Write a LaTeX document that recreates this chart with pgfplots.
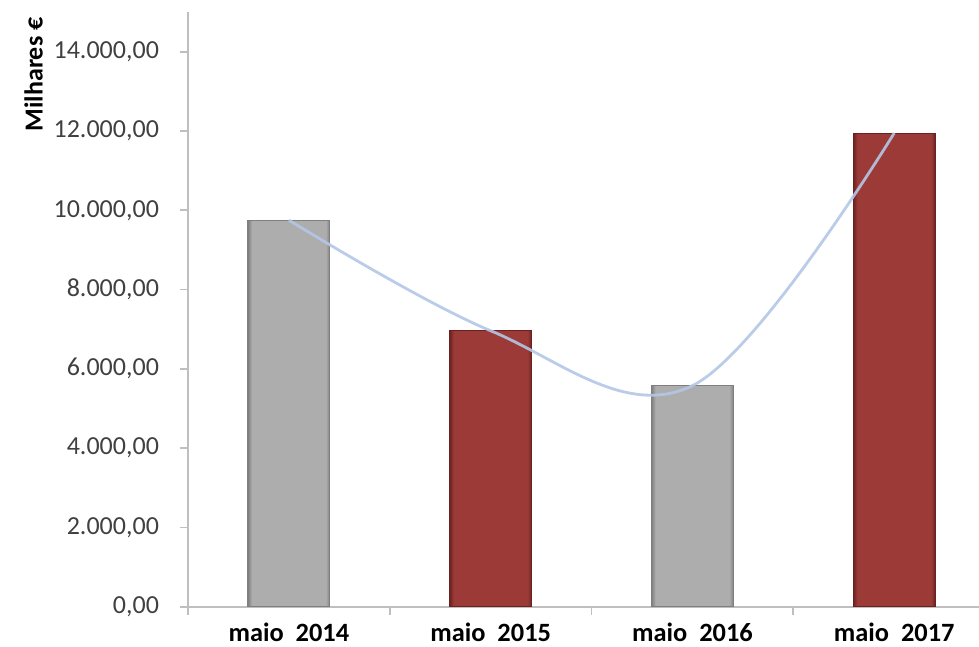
\documentclass[border=0pt]{standalone}
\usepackage{fontspec}
\setmainfont{Carlito}
\usepackage{pgfplots}
\pgfplotsset{compat=1.18}
\definecolor{gm}{HTML}{ADADAD}
\definecolor{gd}{HTML}{7F7F7F}
\definecolor{rm}{HTML}{9C3A38}
\definecolor{rd}{HTML}{6A2220}
\definecolor{axisgray}{HTML}{BFBFBF}
\definecolor{ticktext}{HTML}{404040}
\definecolor{curveblue}{HTML}{B4C7E7}
\pgfdeclarehorizontalshading{grayshade}{100bp}{color(0bp)=(gd); color(25bp)=(gd); color(27.5bp)=(gm); color(72.5bp)=(gm); color(75bp)=(gd); color(100bp)=(gd)}
\pgfdeclarehorizontalshading{redshade}{100bp}{color(0bp)=(rd); color(25bp)=(rd); color(27.5bp)=(rm); color(72.5bp)=(rm); color(75bp)=(rd); color(100bp)=(rd)}
\begin{document}
\begin{tikzpicture}
\begin{axis}[
  scale only axis, width=395.5pt, height=297.35pt,
  xmin=-0.5, xmax=3.42, ymin=0, ymax=15000,
  axis x line*=bottom, axis y line*=left,
  axis line style={draw=axisgray, line width=0.9pt, -},
  ytick={0,2000,...,14000},
  scaled y ticks=false,
  xtick={0,1,2,3},
  xticklabels={maio\ \ 2014, maio\ \ 2015, maio\ \ 2016, maio\ \ 2017},
  major x tick style={draw=none},
  minor xtick={-0.5,0.5,1.5,2.5},
  tick align=outside,
  major tick length=4pt, minor tick length=4pt,
  tick style={draw=axisgray, line width=0.9pt},
  /pgf/number format/.cd, fixed, fixed zerofill, precision=2, use comma, 1000 sep={.}, assume math mode=true,
  /pgfplots/.cd,
  yticklabel style={font=\fontsize{13}{15}\selectfont, text=ticktext, xshift=-7pt},
  xticklabel style={font=\bfseries\fontsize{13.2}{15}\selectfont, text=black, inner ysep=0pt, yshift=-4pt},
  clip=false,
]
\addplot[ybar, bar width=41pt, bar shift=0pt, draw=gd, line width=0.4pt, shade, shading=grayshade] coordinates {(0,9750)};
\addplot[ybar, bar width=41pt, bar shift=0pt, draw=rd, line width=0.4pt, shade, shading=redshade] coordinates {(1,6960)};
\addplot[ybar, bar width=41pt, bar shift=0pt, draw=gd, line width=0.4pt, shade, shading=grayshade] coordinates {(2,5576)};
\addplot[ybar, bar width=41pt, bar shift=0pt, draw=rd, line width=0.4pt, shade, shading=redshade] coordinates {(3,11947)};
\addplot[smooth, tension=0.6, line width=1.4pt, color=curveblue, opacity=0.9, mark=none] coordinates {(0,9750) (1,6960) (2,5576) (3,11947)};
\coordinate (O) at (rel axis cs:0,0);
\node[rotate=90, font=\bfseries\fontsize{13}{15}\selectfont] at ([xshift=-77.25pt]rel axis cs:0,0.895) {Milhares €};
\end{axis}
\pgfresetboundingbox
\path[use as bounding box] (O) ++(-94pt,-20.15pt) rectangle ++(489.5pt,323.5pt);
\end{tikzpicture}
\end{document}
